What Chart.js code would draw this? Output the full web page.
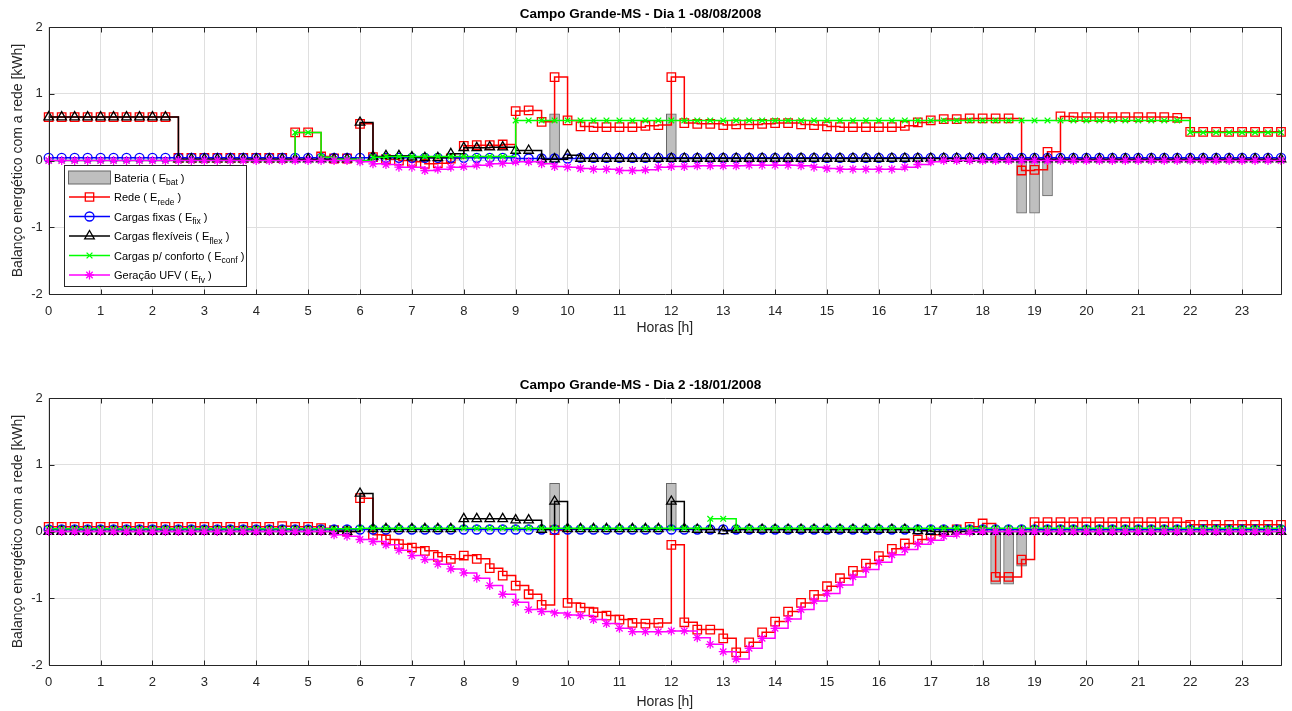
<!DOCTYPE html>
<html>
<head>
<meta charset="utf-8">
<title>Balanço energético - Campo Grande-MS</title>
<script src="https://cdn.jsdelivr.net/npm/chart.js@4.4.1/dist/chart.umd.min.js"></script>
<style>
    body { margin: 0; background: #ffffff; overflow: hidden; }
    .painel { position: absolute; left: 0; width: 1292px; }
</style>
</head>
<body>
<div class="painel" style="top:0; height:345px;"><canvas id="dia1"></canvas></div>
<div class="painel" style="top:371px; height:340px;"><canvas id="dia2"></canvas></div>
<script>
// Passos de 15 minutos ao longo do dia (0 a 23,75 h)
const horas = Array.from({ length: 96 }, (_, i) => i * 0.25);

// ---- Dia 1 - 08/08/2008 ----
const bateria1 = [
    0, 0, 0, 0, 0, 0, 0, 0,
    0, 0, 0, 0, 0, 0, 0, 0,
    0, 0, 0, 0, 0, 0, 0, 0,
    0, 0, 0, 0, 0, 0, 0, 0,
    0, 0, 0, 0, 0, 0, 0, 0.70,
    0, 0, 0, 0, 0, 0, 0, 0,
    0.70, 0, 0, 0, 0, 0, 0, 0,
    0, 0, 0, 0, 0, 0, 0, 0,
    0, 0, 0, 0, 0, 0, 0, 0,
    0, 0, 0, -0.79, -0.79, -0.53, 0, 0,
    0, 0, 0, 0, 0, 0, 0, 0,
    0, 0, 0, 0, 0, 0, 0, 0
];
const rede1 = [
    0.65, 0.65, 0.65, 0.65, 0.65, 0.65, 0.65, 0.65,
    0.65, 0.65, 0.04, 0.04, 0.04, 0.04, 0.04, 0.04,
    0.04, 0.04, 0.04, 0.42, 0.42, 0.06, 0.03, 0.03,
    0.55, 0.05, 0.02, 0.00, -0.02, -0.05, -0.04, 0.03,
    0.22, 0.23, 0.23, 0.24, 0.74, 0.75, 0.58, 1.25,
    0.60, 0.51, 0.50, 0.50, 0.50, 0.50, 0.52, 0.53,
    1.25, 0.56, 0.55, 0.55, 0.53, 0.54, 0.54, 0.55,
    0.56, 0.56, 0.54, 0.53, 0.51, 0.50, 0.50, 0.50,
    0.50, 0.50, 0.52, 0.57, 0.60, 0.62, 0.62, 0.63,
    0.63, 0.63, 0.63, -0.15, -0.14, 0.13, 0.66, 0.65,
    0.65, 0.65, 0.65, 0.65, 0.65, 0.65, 0.65, 0.64,
    0.43, 0.43, 0.43, 0.43, 0.43, 0.43, 0.43, 0.43
];
const fixas1 = [
    0.04, 0.04, 0.04, 0.04, 0.04, 0.04, 0.04, 0.04,
    0.04, 0.04, 0.04, 0.04, 0.04, 0.04, 0.04, 0.04,
    0.04, 0.04, 0.04, 0.04, 0.04, 0.04, 0.04, 0.04,
    0.04, 0.04, 0.04, 0.04, 0.04, 0.04, 0.04, 0.04,
    0.04, 0.04, 0.04, 0.04, 0.03, 0.03, 0.03, 0.03,
    0.03, 0.04, 0.04, 0.04, 0.04, 0.04, 0.04, 0.04,
    0.04, 0.04, 0.04, 0.04, 0.04, 0.04, 0.04, 0.04,
    0.04, 0.04, 0.04, 0.04, 0.04, 0.04, 0.04, 0.04,
    0.04, 0.04, 0.04, 0.04, 0.04, 0.04, 0.04, 0.04,
    0.04, 0.04, 0.04, 0.04, 0.04, 0.04, 0.04, 0.04,
    0.04, 0.04, 0.04, 0.04, 0.04, 0.04, 0.04, 0.04,
    0.04, 0.04, 0.04, 0.04, 0.04, 0.04, 0.04, 0.04
];
const flex1 = [
    0.65, 0.65, 0.65, 0.65, 0.65, 0.65, 0.65, 0.65,
    0.65, 0.65, 0.02, 0.02, 0.02, 0.02, 0.02, 0.02,
    0.02, 0.02, 0.02, 0.02, 0.02, 0.02, 0.02, 0.02,
    0.57, 0.06, 0.07, 0.07, 0.05, 0.04, 0.04, 0.10,
    0.19, 0.19, 0.20, 0.20, 0.15, 0.15, 0.02, 0.02,
    0.08, 0.03, 0.03, 0.03, 0.03, 0.03, 0.03, 0.03,
    0.03, 0.03, 0.03, 0.03, 0.03, 0.03, 0.03, 0.03,
    0.03, 0.03, 0.03, 0.03, 0.03, 0.03, 0.03, 0.03,
    0.03, 0.03, 0.03, 0.03, 0.03, 0.03, 0.03, 0.03,
    0.02, 0.02, 0.02, 0.02, 0.02, 0.02, 0.02, 0.02,
    0.02, 0.02, 0.02, 0.02, 0.02, 0.02, 0.02, 0.02,
    0.02, 0.02, 0.02, 0.02, 0.02, 0.02, 0.02, 0.02
];
const conforto1 = [
    0, 0, 0, 0, 0, 0, 0, 0,
    0, 0, 0, 0, 0, 0, 0, 0,
    0, 0, 0, 0.42, 0.42, 0.05, 0.02, 0.02,
    0.00, 0.05, 0.06, 0.06, 0.06, 0.06, 0.06, 0.06,
    0.06, 0.06, 0.06, 0.06, 0.60, 0.60, 0.60, 0.60,
    0.60, 0.60, 0.60, 0.60, 0.60, 0.60, 0.60, 0.60,
    0.60, 0.60, 0.60, 0.60, 0.60, 0.60, 0.60, 0.60,
    0.60, 0.60, 0.60, 0.60, 0.60, 0.60, 0.60, 0.60,
    0.60, 0.60, 0.60, 0.60, 0.60, 0.60, 0.60, 0.60,
    0.60, 0.60, 0.60, 0.60, 0.60, 0.60, 0.60, 0.60,
    0.60, 0.60, 0.60, 0.60, 0.60, 0.60, 0.60, 0.60,
    0.42, 0.42, 0.42, 0.42, 0.42, 0.42, 0.42, 0.42
];
const ufv1 = [
    0, 0, 0, 0, 0, 0, 0, 0,
    0, 0, 0, 0, 0, 0, 0, 0,
    0, 0, 0, 0, 0, 0, 0, 0,
    -0.02, -0.05, -0.06, -0.10, -0.10, -0.15, -0.13, -0.10,
    -0.09, -0.07, -0.05, -0.04, -0.02, -0.02, -0.05, -0.09,
    -0.10, -0.12, -0.13, -0.13, -0.15, -0.15, -0.14, -0.10,
    -0.09, -0.09, -0.08, -0.08, -0.08, -0.08, -0.07, -0.07,
    -0.07, -0.07, -0.08, -0.10, -0.12, -0.13, -0.13, -0.13,
    -0.13, -0.13, -0.10, -0.06, -0.02, 0, 0, 0,
    0, 0, 0, 0, 0, 0, 0, 0,
    0, 0, 0, 0, 0, 0, 0, 0,
    0, 0, 0, 0, 0, 0, 0, 0
];

// ---- Dia 2 - 18/01/2008 ----
const bateria2 = [
    0, 0, 0, 0, 0, 0, 0, 0,
    0, 0, 0, 0, 0, 0, 0, 0,
    0, 0, 0, 0, 0, 0, 0, 0,
    0, 0, 0, 0, 0, 0, 0, 0,
    0, 0, 0, 0, 0, 0, 0, 0.72,
    0, 0, 0, 0, 0, 0, 0, 0,
    0.72, 0, 0, 0, 0, 0, 0, 0,
    0, 0, 0, 0, 0, 0, 0, 0,
    0, 0, 0, 0, 0, 0, 0, 0,
    0, -0.79, -0.79, -0.52, 0, 0, 0, 0,
    0, 0, 0, 0, 0, 0, 0, 0,
    0, 0, 0, 0, 0, 0, 0, 0
];
const rede2 = [
    0.07, 0.07, 0.07, 0.07, 0.07, 0.07, 0.07, 0.07,
    0.07, 0.07, 0.07, 0.07, 0.07, 0.07, 0.07, 0.07,
    0.07, 0.07, 0.08, 0.07, 0.07, 0.05, 0.02, 0.00,
    0.50, -0.05, -0.12, -0.19, -0.24, -0.29, -0.38, -0.41,
    -0.36, -0.41, -0.55, -0.66, -0.81, -0.94, -1.10, 0.02,
    -1.07, -1.14, -1.21, -1.26, -1.32, -1.37, -1.38, -1.37,
    -0.20, -1.36, -1.47, -1.47, -1.60, -1.81, -1.66, -1.51,
    -1.35, -1.20, -1.07, -0.95, -0.82, -0.70, -0.59, -0.48,
    -0.37, -0.26, -0.18, -0.12, -0.05, 0.00, 0.03, 0.07,
    0.12, -0.68, -0.68, -0.42, 0.14, 0.14, 0.14, 0.14,
    0.14, 0.14, 0.14, 0.14, 0.14, 0.14, 0.14, 0.14,
    0.10, 0.10, 0.10, 0.10, 0.10, 0.10, 0.10, 0.10
];
const fixas2 = [
    0.03, 0.03, 0.03, 0.03, 0.03, 0.03, 0.03, 0.03,
    0.03, 0.03, 0.03, 0.03, 0.03, 0.03, 0.03, 0.03,
    0.03, 0.03, 0.03, 0.03, 0.03, 0.03, 0.03, 0.03,
    0.03, 0.03, 0.03, 0.03, 0.03, 0.03, 0.03, 0.03,
    0.03, 0.03, 0.03, 0.03, 0.03, 0.03, 0.03, 0.03,
    0.03, 0.03, 0.03, 0.03, 0.03, 0.03, 0.03, 0.03,
    0.03, 0.03, 0.03, 0.03, 0.03, 0.03, 0.03, 0.03,
    0.03, 0.03, 0.03, 0.03, 0.03, 0.03, 0.03, 0.03,
    0.03, 0.03, 0.03, 0.03, 0.03, 0.03, 0.03, 0.03,
    0.03, 0.03, 0.03, 0.03, 0.03, 0.03, 0.03, 0.03,
    0.03, 0.03, 0.03, 0.03, 0.03, 0.03, 0.03, 0.03,
    0.03, 0.03, 0.03, 0.03, 0.03, 0.03, 0.03, 0.03
];
const flex2 = [
    0, 0, 0, 0, 0, 0, 0, 0,
    0, 0, 0, 0, 0, 0, 0, 0,
    0, 0, 0, 0, 0, 0, 0, 0,
    0.57, 0.04, 0.04, 0.04, 0.04, 0.04, 0.04, 0.04,
    0.19, 0.19, 0.19, 0.19, 0.17, 0.17, 0.03, 0.45,
    0.04, 0.04, 0.04, 0.04, 0.04, 0.04, 0.04, 0.04,
    0.45, 0.04, 0.03, 0.03, 0.01, 0.03, 0.03, 0.03,
    0.03, 0.03, 0.03, 0.03, 0.03, 0.03, 0.03, 0.03,
    0.03, 0.03, 0.03, 0.01, 0.00, 0.00, 0.00, 0.00,
    0, 0, 0, 0, 0, 0, 0, 0,
    0, 0, 0, 0, 0, 0, 0, 0,
    0, 0, 0, 0, 0, 0, 0, 0
];
const conforto2 = [
    0.04, 0.04, 0.04, 0.04, 0.04, 0.04, 0.04, 0.04,
    0.04, 0.04, 0.04, 0.04, 0.04, 0.04, 0.04, 0.04,
    0.04, 0.04, 0.04, 0.04, 0.04, 0.04, 0.04, 0.04,
    0.05, 0.05, 0.05, 0.05, 0.05, 0.05, 0.05, 0.05,
    0.05, 0.05, 0.05, 0.05, 0.05, 0.05, 0.05, 0.05,
    0.05, 0.05, 0.05, 0.05, 0.05, 0.05, 0.05, 0.05,
    0.05, 0.05, 0.05, 0.19, 0.19, 0.05, 0.05, 0.05,
    0.05, 0.05, 0.05, 0.05, 0.05, 0.05, 0.05, 0.05,
    0.05, 0.05, 0.05, 0.05, 0.05, 0.05, 0.05, 0.05,
    0.05, 0.05, 0.05, 0.05, 0.05, 0.05, 0.05, 0.05,
    0.05, 0.05, 0.05, 0.05, 0.05, 0.05, 0.05, 0.05,
    0.05, 0.05, 0.05, 0.05, 0.05, 0.05, 0.05, 0.05
];
const ufv2 = [
    0, 0, 0, 0, 0, 0, 0, 0,
    0, 0, 0, 0, 0, 0, 0, 0,
    0, 0, 0, 0, 0, 0, -0.05, -0.07,
    -0.12, -0.15, -0.20, -0.28, -0.36, -0.42, -0.49, -0.56,
    -0.62, -0.70, -0.81, -0.94, -1.06, -1.17, -1.20, -1.22,
    -1.25, -1.26, -1.32, -1.38, -1.45, -1.50, -1.50, -1.50,
    -1.49, -1.49, -1.59, -1.69, -1.80, -1.91, -1.75, -1.60,
    -1.45, -1.31, -1.17, -1.04, -0.93, -0.80, -0.68, -0.57,
    -0.46, -0.35, -0.27, -0.19, -0.13, -0.07, -0.04, -0.01,
    0, 0, 0, 0, 0, 0, 0, 0,
    0, 0, 0, 0, 0, 0, 0, 0,
    0, 0, 0, 0, 0, 0, 0, 0
];

const FONTE = '"Liberation Sans", Arial, Helvetica, sans-serif';
const COR_EIXO = '#262626';

// Itens da legenda (texto com subscrito)
const itensLegenda = [
    { texto: 'Bateria ( E', sub: 'bat', cor: '#bfbfbf', marcador: 'barra' },
    { texto: 'Rede ( E', sub: 'rede', cor: '#ff0000', marcador: 'rect' },
    { texto: 'Cargas fixas ( E', sub: 'fix', cor: '#0000ff', marcador: 'circle' },
    { texto: 'Cargas flexíveis ( E', sub: 'flex', cor: '#000000', marcador: 'triangle' },
    { texto: 'Cargas p/ conforto ( E', sub: 'conf', cor: '#00ff00', marcador: 'crossRot' },
    { texto: 'Geração UFV ( E', sub: 'fv', cor: '#ff00ff', marcador: 'star' }
];

function pares(valores) {
    return valores.map((y, i) => ({ x: horas[i], y: y }));
}

function linha(rotulo, valores, cor, estilo, raio, ordem) {
    return {
        type: 'line',
        label: rotulo,
        data: pares(valores),
        borderColor: cor,
        borderWidth: 1.5,
        stepped: true,
        tension: 0,
        fill: false,
        clip: false,
        pointStyle: estilo,
        pointRadius: raio,
        pointBorderColor: cor,
        pointBackgroundColor: 'rgba(0,0,0,0)',
        pointBorderWidth: 1.3,
        order: ordem
    };
}

function montarSeries(bat, rede, fix, flex, conf, fv) {
    return [
        {
            type: 'bar',
            label: 'Bateria',
            data: pares(bat).filter(p => p.y !== 0),
            backgroundColor: '#bfbfbf',
            borderColor: '#666666',
            borderWidth: 1,
            barThickness: 10,
            order: 6
        },
        linha('Rede', rede, '#ff0000', 'rect', 6, 5),
        linha('Cargas fixas', fix, '#0000ff', 'circle', 4.5, 4),
        linha('Cargas flexíveis', flex, '#000000', 'triangle', 5.5, 3),
        linha('Cargas p/ conforto', conf, '#00ff00', 'crossRot', 4, 2),
        linha('Geração UFV', fv, '#ff00ff', 'star', 4.5, 1)
    ];
}

// Caixa dos eixos com marcas de escala para dentro
const caixaEixos = {
    id: 'caixaEixos',
    afterDraw(chart) {
        const { ctx, chartArea: a, scales } = chart;
        const esq = Math.round(a.left) + 0.5, dir = Math.round(a.right) + 0.5;
        const topo = Math.round(a.top) + 0.5, base = Math.round(a.bottom) + 0.5;
        ctx.save();
        ctx.strokeStyle = COR_EIXO;
        ctx.lineWidth = 1;
        ctx.beginPath();
        scales.x.ticks.forEach(t => {
            const px = Math.round(scales.x.getPixelForValue(t.value)) + 0.5;
            ctx.moveTo(px, base); ctx.lineTo(px, base - 5);
            ctx.moveTo(px, topo); ctx.lineTo(px, topo + 5);
        });
        scales.y.ticks.forEach(t => {
            const py = Math.round(scales.y.getPixelForValue(t.value)) + 0.5;
            ctx.moveTo(esq, py); ctx.lineTo(esq + 5, py);
            ctx.moveTo(dir, py); ctx.lineTo(dir - 5, py);
        });
        ctx.rect(esq, topo, dir - esq, base - topo);
        ctx.stroke();
        ctx.restore();
    }
};

function desenharMarcador(ctx, tipo, x, y, cor) {
    ctx.strokeStyle = cor;
    ctx.lineWidth = 1.3;
    ctx.beginPath();
    if (tipo === 'rect') {
        ctx.rect(x - 4.2, y - 4.2, 8.4, 8.4);
    } else if (tipo === 'circle') {
        ctx.arc(x, y, 4.5, 0, Math.PI * 2);
    } else if (tipo === 'triangle') {
        ctx.moveTo(x, y - 5.5);
        ctx.lineTo(x + 4.8, y + 2.8);
        ctx.lineTo(x - 4.8, y + 2.8);
        ctx.closePath();
    } else if (tipo === 'crossRot') {
        ctx.moveTo(x - 2.9, y - 2.9); ctx.lineTo(x + 2.9, y + 2.9);
        ctx.moveTo(x + 2.9, y - 2.9); ctx.lineTo(x - 2.9, y + 2.9);
    } else if (tipo === 'star') {
        ctx.moveTo(x, y - 4.5); ctx.lineTo(x, y + 4.5);
        ctx.moveTo(x - 4.5, y); ctx.lineTo(x + 4.5, y);
        ctx.moveTo(x - 3.2, y - 3.2); ctx.lineTo(x + 3.2, y + 3.2);
        ctx.moveTo(x + 3.2, y - 3.2); ctx.lineTo(x - 3.2, y + 3.2);
    }
    ctx.stroke();
}

// Legenda no estilo do MATLAB, só no primeiro gráfico
const legendaMatlab = {
    id: 'legendaMatlab',
    afterDraw(chart, args, opts) {
        if (!opts.mostrar) return;
        const ctx = chart.ctx;
        const x0 = 64.5, y0 = 165.5, largura = 182, altura = 121;
        ctx.save();
        ctx.fillStyle = '#ffffff';
        ctx.fillRect(x0, y0, largura, altura);
        ctx.strokeStyle = COR_EIXO;
        ctx.lineWidth = 1;
        ctx.strokeRect(x0, y0, largura, altura);

        itensLegenda.forEach((item, k) => {
            const cy = y0 + 12 + k * 19.5;
            if (item.marcador === 'barra') {
                ctx.fillStyle = item.cor;
                ctx.fillRect(68.5, cy - 6.5, 42, 13);
                ctx.strokeStyle = '#666666';
                ctx.lineWidth = 1;
                ctx.strokeRect(68.5, cy - 6.5, 42, 13);
            } else {
                ctx.strokeStyle = item.cor;
                ctx.lineWidth = 1.5;
                ctx.beginPath();
                ctx.moveTo(69, cy);
                ctx.lineTo(110, cy);
                ctx.stroke();
                desenharMarcador(ctx, item.marcador, 89.5, cy, item.cor);
            }
            ctx.fillStyle = '#000000';
            ctx.textBaseline = 'alphabetic';
            ctx.font = '11px ' + FONTE;
            let x = 114;
            ctx.fillText(item.texto, x, cy + 4);
            x += ctx.measureText(item.texto).width;
            ctx.font = '8.5px ' + FONTE;
            ctx.fillText(item.sub, x, cy + 7.5);
            x += ctx.measureText(item.sub).width;
            ctx.font = '11px ' + FONTE;
            ctx.fillText(' )', x, cy + 4);
        });
        ctx.restore();
    }
};

function criarGrafico(idCanvas, titulo, series, alturaEixoX, folgaTituloX, comLegenda) {
    const ctx = document.getElementById(idCanvas).getContext('2d');
    return new Chart(ctx, {
        type: 'line',
        data: { datasets: series },
        options: {
            responsive: true,
            maintainAspectRatio: false,
            animation: false,
            devicePixelRatio: 1,
            locale: 'en-US',
            layout: { padding: { left: 0, right: 11, top: 0, bottom: 0 } },
            plugins: {
                legend: { display: false },
                tooltip: { enabled: false },
                title: {
                    display: true,
                    text: titulo,
                    color: '#000000',
                    font: { family: FONTE, size: 13.5, weight: 'bold' },
                    padding: { top: 6.5, bottom: 4.3 }
                },
                legendaMatlab: { mostrar: comLegenda }
            },
            scales: {
                x: {
                    type: 'linear',
                    min: 0,
                    max: 23.75,
                    offset: false,
                    afterFit: eixo => { eixo.height = alturaEixoX; },
                    ticks: {
                        stepSize: 1,
                        includeBounds: false,
                        autoSkip: false,
                        maxRotation: 0,
                        padding: 10,
                        color: COR_EIXO,
                        font: { family: FONTE, size: 13 }
                    },
                    grid: { color: '#dfdfdf', lineWidth: 1, drawTicks: false, offset: false },
                    border: { display: false },
                    title: {
                        display: true,
                        text: 'Horas [h]',
                        color: COR_EIXO,
                        font: { family: FONTE, size: 14 },
                        padding: { top: 0, bottom: folgaTituloX }
                    }
                },
                y: {
                    type: 'linear',
                    min: -2,
                    max: 2,
                    afterFit: eixo => { eixo.width = 48.7; },
                    ticks: {
                        stepSize: 1,
                        padding: 6,
                        color: COR_EIXO,
                        font: { family: FONTE, size: 13 }
                    },
                    grid: { color: '#dfdfdf', lineWidth: 1, drawTicks: false },
                    border: { display: false },
                    title: {
                        display: true,
                        text: 'Balanço energético com a rede [kWh]',
                        color: COR_EIXO,
                        font: { family: FONTE, size: 14 },
                        padding: { top: 9.6, bottom: 0 }
                    }
                }
            }
        },
        plugins: [caixaEixos, legendaMatlab]
    });
}

criarGrafico('dia1', 'Campo Grande-MS - Dia 1 -08/08/2008',
    montarSeries(bateria1, rede1, fixas1, flex1, conforto1, ufv1), 51, 8.6, true);
criarGrafico('dia2', 'Campo Grande-MS - Dia 2 -18/01/2008',
    montarSeries(bateria2, rede2, fixas2, flex2, conforto2, ufv2), 46, 0.6, false);
</script>
</body>
</html>
